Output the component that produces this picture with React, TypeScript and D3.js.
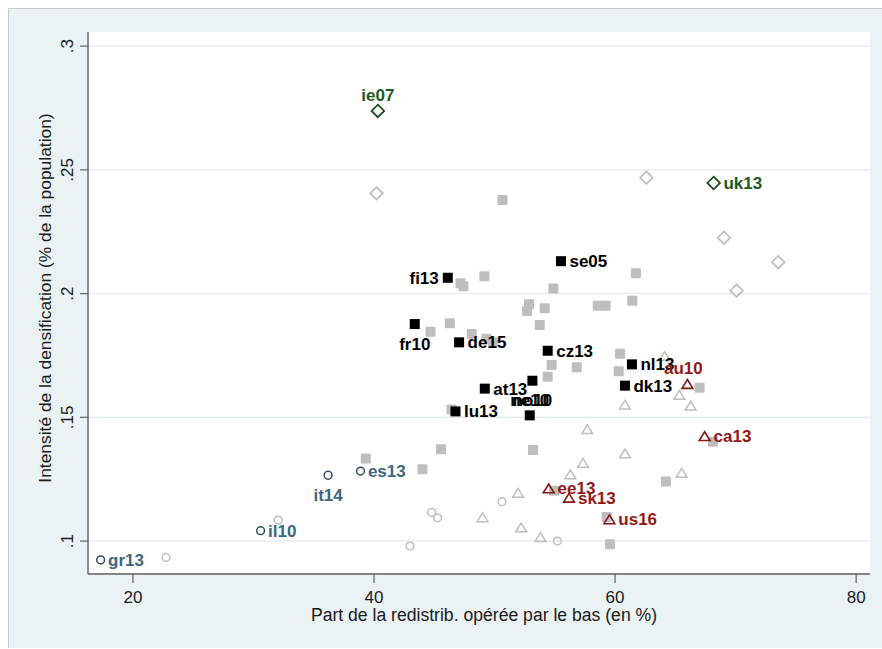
import * as d3 from "d3";
import { useEffect, useRef } from "react";

// x ticks / y ticks
const xTicks = [20, 40, 60, 80];
const yTicks = [0.1, 0.15, 0.2, 0.25, 0.3];
const yTickLabels = [".1", ".15", ".2", ".25", ".3"];

const xTitle = "Part de la redistrib. opérée par le bas (en %)";
const yTitle = "Intensité de la densification (% de la population)";

type Pt = { x: number; y: number };
type LPt = { name: string; x: number; y: number };

const grayDiamonds: Pt[] = [
  { x: 40.21, y: 0.2405 },
  { x: 62.6, y: 0.2468 },
  { x: 69.03, y: 0.2226 },
  { x: 73.54, y: 0.2127 },
  { x: 70.08, y: 0.2012 },
];
const greenDiamonds: LPt[] = [
  { name: "ie07", x: 40.32, y: 0.2738 },
  { name: "uk13", x: 68.18, y: 0.2447 },
];

const graySquares: Pt[] = [
  { x: 50.66, y: 0.2378 },
  { x: 47.17, y: 0.2042 },
  { x: 47.42, y: 0.203 },
  { x: 49.16, y: 0.207 },
  { x: 54.88, y: 0.2021 },
  { x: 61.73, y: 0.2082 },
  { x: 52.86, y: 0.1957 },
  { x: 52.7, y: 0.193 },
  { x: 54.16, y: 0.1941 },
  { x: 58.56, y: 0.1951 },
  { x: 59.22, y: 0.1951 },
  { x: 61.43, y: 0.1971 },
  { x: 53.75, y: 0.1873 },
  { x: 46.29, y: 0.188 },
  { x: 44.69, y: 0.1846 },
  { x: 48.11, y: 0.1837 },
  { x: 49.33, y: 0.1818 },
  { x: 49.88, y: 0.1802 },
  { x: 54.74, y: 0.1711 },
  { x: 56.82, y: 0.1702 },
  { x: 54.41, y: 0.1664 },
  { x: 60.41, y: 0.1757 },
  { x: 60.3, y: 0.1686 },
  { x: 46.43, y: 0.1532 },
  { x: 67.01, y: 0.162 },
  { x: 68.12, y: 0.1401 },
  { x: 39.32, y: 0.1334 },
  { x: 45.56, y: 0.1371 },
  { x: 44.02, y: 0.129 },
  { x: 53.19, y: 0.1368 },
  { x: 54.93, y: 0.1203 },
  { x: 59.58, y: 0.0987 },
  { x: 64.22, y: 0.1241 },
  { x: 59.3, y: 0.1097 },
];
const blackSquares: LPt[] = [
  { name: "fi13", x: 46.12, y: 0.2064 },
  { name: "se05", x: 55.51, y: 0.2131 },
  { name: "fr10", x: 43.38, y: 0.1877 },
  { name: "de15", x: 47.06, y: 0.1803 },
  { name: "cz13", x: 54.41, y: 0.1769 },
  { name: "at13", x: 49.19, y: 0.1616 },
  { name: "no10", x: 53.14, y: 0.1648 },
  { name: "lu13", x: 46.76, y: 0.1524 },
  { name: "ne10", x: 52.92, y: 0.1508 },
  { name: "nl13", x: 61.4, y: 0.1714 },
  { name: "dk13", x: 60.82, y: 0.1628 },
];

const grayTriangles: Pt[] = [
  { x: 64.11, y: 0.1748 },
  { x: 65.33, y: 0.1591 },
  { x: 66.27, y: 0.1547 },
  { x: 60.82, y: 0.1551 },
  { x: 57.69, y: 0.1452 },
  { x: 60.82, y: 0.1354 },
  { x: 57.34, y: 0.1316 },
  { x: 56.29, y: 0.127 },
  { x: 51.95, y: 0.1195 },
  { x: 49.0, y: 0.1096 },
  { x: 52.2, y: 0.1055 },
  { x: 53.81, y: 0.1016 },
  { x: 65.52, y: 0.1276 },
];
const redTriangles: LPt[] = [
  { name: "au10", x: 66.0, y: 0.1635 },
  { name: "ca13", x: 67.43, y: 0.1424 },
  { name: "ee13", x: 54.49, y: 0.1213 },
  { name: "sk13", x: 56.18, y: 0.1175 },
  { name: "us16", x: 59.53, y: 0.1088 },
];

const grayCircles: Pt[] = [
  { x: 50.62, y: 0.1159 },
  { x: 44.79, y: 0.1116 },
  { x: 45.27, y: 0.1094 },
  { x: 42.99, y: 0.098 },
  { x: 55.22, y: 0.1 },
  { x: 32.05, y: 0.1085 },
  { x: 22.74, y: 0.0934 },
];
const blueCircles: LPt[] = [
  { name: "gr13", x: 17.32, y: 0.0924 },
  { name: "il10", x: 30.59, y: 0.1042 },
  { name: "it14", x: 36.19, y: 0.1266 },
  { name: "es13", x: 38.88, y: 0.1283 },
];

// where the label sits (default: right of the marker)
const labelPlacement: { [k: string]: string } = {
  ie07: "top",
  fi13: "left",
  fr10: "bottom",
  no10: "bottom",
  ne10: "top",
  au10: "top",
  it14: "bottom",
};

const App = () => {
  const svgRef = useRef<SVGSVGElement>(null);
  useEffect(() => {
    if (!svgRef.current) return;
    const svg = d3.select(svgRef.current);
    svg.selectAll("*").remove();

    const plotLeft = 88;
    const plotRight = 870;
    const plotTop = 32;
    const plotBottom = 574;
    const font = "'Liberation Sans', Arial, sans-serif";

    const x = d3.scaleLinear().domain([16.27, 81.15]).range([plotLeft, plotRight]);
    const y = d3.scaleLinear().domain([0.0867, 0.3057]).range([plotBottom, plotTop]);

    // outer region
    svg.append("rect").attr("x", 8).attr("y", 8).attr("width", 880).attr("height", 640).attr("fill", "#EAF2F3");
    svg.append("line").attr("x1", 8).attr("x2", 882).attr("y1", 8.5).attr("y2", 8.5).attr("stroke", "#C9C9C9");
    svg.append("line").attr("x1", 8.5).attr("x2", 8.5).attr("y1", 8).attr("y2", 648).attr("stroke", "#C9C9C9");

    // plot region
    svg
      .append("rect")
      .attr("x", plotLeft)
      .attr("y", plotTop)
      .attr("width", plotRight - plotLeft)
      .attr("height", plotBottom - plotTop)
      .attr("fill", "#FFFFFF");

    // gridlines
    svg
      .append("g")
      .selectAll()
      .data(yTicks)
      .join("line")
      .attr("x1", plotLeft)
      .attr("x2", plotRight)
      .attr("y1", (d) => y(d))
      .attr("y2", (d) => y(d))
      .attr("stroke", "#E6EDEF")
      .attr("stroke-width", 1.5);

    // axes
    const axisColor = "#5E5E5E";
    svg.append("line").attr("x1", plotLeft).attr("x2", plotLeft).attr("y1", plotTop).attr("y2", plotBottom).attr("stroke", axisColor).attr("stroke-width", 1.4);
    svg.append("line").attr("x1", plotLeft).attr("x2", plotRight).attr("y1", plotBottom).attr("y2", plotBottom).attr("stroke", axisColor).attr("stroke-width", 1.4);

    const yt = svg.append("g");
    yt.selectAll()
      .data(yTicks)
      .join("line")
      .attr("x1", plotLeft - 8)
      .attr("x2", plotLeft)
      .attr("y1", (d) => y(d))
      .attr("y2", (d) => y(d))
      .attr("stroke", axisColor)
      .attr("stroke-width", 1.2);
    yt.selectAll()
      .data(yTicks)
      .join("text")
      .attr("transform", (d) => `translate(73,${y(d)}) rotate(-90)`)
      .attr("text-anchor", "middle")
      .attr("font-family", font)
      .attr("font-size", 17)
      .attr("fill", "#1a1a1a")
      .text((d, i) => yTickLabels[i]);

    const xt = svg.append("g");
    xt.selectAll()
      .data(xTicks)
      .join("line")
      .attr("x1", (d) => x(d))
      .attr("x2", (d) => x(d))
      .attr("y1", plotBottom)
      .attr("y2", plotBottom + 9)
      .attr("stroke", axisColor)
      .attr("stroke-width", 1.2);
    xt.selectAll()
      .data(xTicks)
      .join("text")
      .attr("x", (d) => x(d))
      .attr("y", 603)
      .attr("text-anchor", "middle")
      .attr("font-family", font)
      .attr("font-size", 17)
      .attr("fill", "#1a1a1a")
      .text((d) => d);

    // titles
    svg
      .append("text")
      .attr("x", 484)
      .attr("y", 620.5)
      .attr("text-anchor", "middle")
      .attr("font-family", font)
      .attr("font-size", 17.6)
      .attr("fill", "#1a1a1a")
      .text(xTitle);
    svg
      .append("text")
      .attr("transform", "translate(51,298) rotate(-90)")
      .attr("text-anchor", "middle")
      .attr("font-family", font)
      .attr("font-size", 17.4)
      .attr("fill", "#1a1a1a")
      .text(yTitle);

    // marker shapes
    const sq = 10;
    const diamondPath = (px: number, py: number) => {
      const h = 6.3;
      return `M${px},${py - h}L${px + h},${py}L${px},${py + h}L${px - h},${py}Z`;
    };
    const trianglePath = (px: number, py: number) => {
      const w = 5.4;
      const h = 4.4;
      return `M${px},${py - h}L${px + w},${py + h}L${px - w},${py + h}Z`;
    };
    const gray = "#BEBEBE";

    // gray series
    svg
      .append("g")
      .selectAll()
      .data(grayCircles)
      .join("circle")
      .attr("cx", (d) => x(d.x))
      .attr("cy", (d) => y(d.y))
      .attr("r", 3.9)
      .attr("fill", "none")
      .attr("stroke", gray)
      .attr("stroke-width", 1.5);
    svg
      .append("g")
      .selectAll()
      .data(grayTriangles)
      .join("path")
      .attr("d", (d) => trianglePath(x(d.x), y(d.y)))
      .attr("fill", "none")
      .attr("stroke", gray)
      .attr("stroke-width", 1.5);
    svg
      .append("g")
      .selectAll()
      .data(grayDiamonds)
      .join("path")
      .attr("d", (d) => diamondPath(x(d.x), y(d.y)))
      .attr("fill", "none")
      .attr("stroke", gray)
      .attr("stroke-width", 1.7);
    svg
      .append("g")
      .selectAll()
      .data(graySquares)
      .join("rect")
      .attr("x", (d) => x(d.x) - sq / 2)
      .attr("y", (d) => y(d.y) - sq / 2)
      .attr("width", sq)
      .attr("height", sq)
      .attr("rx", 1)
      .attr("fill", gray);

    // highlighted series
    svg
      .append("g")
      .selectAll()
      .data(blackSquares)
      .join("rect")
      .attr("x", (d) => x(d.x) - sq / 2)
      .attr("y", (d) => y(d.y) - sq / 2)
      .attr("width", sq)
      .attr("height", sq)
      .attr("fill", "#000000");
    svg
      .append("g")
      .selectAll()
      .data(greenDiamonds)
      .join("path")
      .attr("d", (d) => diamondPath(x(d.x), y(d.y)))
      .attr("fill", "none")
      .attr("stroke", "#1B4F1B")
      .attr("stroke-width", 1.8);
    svg
      .append("g")
      .selectAll()
      .data(redTriangles)
      .join("path")
      .attr("d", (d) => trianglePath(x(d.x), y(d.y)))
      .attr("fill", "none")
      .attr("stroke", "#8A1414")
      .attr("stroke-width", 1.6);
    svg
      .append("g")
      .selectAll()
      .data(blueCircles)
      .join("circle")
      .attr("cx", (d) => x(d.x))
      .attr("cy", (d) => y(d.y))
      .attr("r", 3.9)
      .attr("fill", "none")
      .attr("stroke", "#2F4B66")
      .attr("stroke-width", 1.5);

    // labels
    const addLabels = (data: LPt[], color: string, half: number) => {
      svg
        .append("g")
        .selectAll()
        .data(data)
        .join("text")
        .attr("font-family", font)
        .attr("font-size", 17)
        .attr("font-weight", "bold")
        .attr("fill", color)
        .each(function (d) {
          const pos = labelPlacement[d.name] || "right";
          const px = x(d.x);
          const py = y(d.y);
          const t = d3.select(this);
          if (pos === "right") {
            t.attr("x", px + half + 3.5).attr("y", py + 6).attr("text-anchor", "start");
          } else if (pos === "left") {
            t.attr("x", px - half - 4).attr("y", py + 6).attr("text-anchor", "end");
          } else if (pos === "top") {
            t.attr("x", px - (d.name === "au10" ? 4 : 0)).attr("y", py - 9.5).attr("text-anchor", "middle");
          } else {
            t.attr("x", px).attr("y", py + 25.5).attr("text-anchor", "middle");
          }
        })
        .text((d) => d.name);
    };
    addLabels(blackSquares, "#000000", sq / 2);
    addLabels(greenDiamonds, "#1E5A1E", 6.3);
    addLabels(redTriangles, "#921818", 5.4);
    addLabels(blueCircles, "#3D6683", 3.9);
  }, []);
  return (
    <svg
      ref={svgRef}
      width={882}
      height={649}
      style={{ position: "absolute", left: 0, top: 0, display: "block" }}
    ></svg>
  );
};

export default App;
